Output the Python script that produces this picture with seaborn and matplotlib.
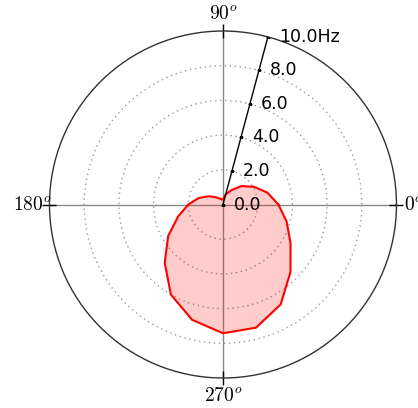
import numpy as np
import matplotlib
matplotlib.use("Agg")
import matplotlib.pyplot as plt
import seaborn as sns

# Dati: risposta (Hz) in funzione della direzione (gradi)
angoli_deg = [0, 15, 30, 45, 60, 75, 90, 105, 120, 135, 150, 165,
              180, 195, 210, 225, 240, 255, 270, 285, 300, 315, 330, 345]
raggi_hz = [3.19, 2.65, 2.05, 1.5, 0.95, 0.6, 0.3, 0.3, 0.4, 0.6, 0.95, 1.45,
            2.0, 2.68, 3.65, 4.75, 6.0, 6.88, 7.42, 7.35, 6.65, 5.5, 4.5, 3.8]

r_ticks = [0, 2, 4, 6, 8, 10]
r_labels = ["0.0", "2.0", "4.0", "6.0", "8.0", "10.0Hz"]
theta_ticks = [0, 90, 180, 270]
theta_labels = ["$0^o$", "$90^o$", "$180^o$", "$270^o$"]

sns.set_style("white")
plt.rcParams['mathtext.fontset'] = 'cm'
plt.rcParams['font.family'] = ['DejaVu Sans']

fig = plt.figure(figsize=(4.18, 4.08), dpi=100)
ax = fig.add_axes([0.1184, 0.0735, 0.8301, 0.8505], projection='polar')

# chiudo il contorno con il punto a 360 gradi
theta = np.deg2rad(angoli_deg + [360])
r = np.array(raggi_hz + raggi_hz[:1])

ax.fill(theta, r, color='red', alpha=0.2, lw=0, zorder=2)
sns.lineplot(x=theta, y=r, sort=False, ax=ax, color='red', lw=1.5, zorder=3)

ax.set_ylim(0, 10)

# griglia
ax.set_xticks(np.deg2rad(theta_ticks))
ax.set_xticklabels([])
ax.set_yticks(r_ticks[1:-1])
ax.set_yticklabels([])
ax.xaxis.grid(True, color='#8a8a8a', ls='-', lw=1)
ax.yaxis.grid(True, color='#9a9a9a', ls=(0, (1, 2.6)), lw=1)
ax.tick_params(axis='x', bottom=False, top=True, direction='inout', length=5,
               width=1, color='k')
ax.spines['polar'].set_linestyle((0, (6, 1)))
ax.spines['polar'].set_color('#333333')
ax.spines['polar'].set_linewidth(1)

# asse radiale
t75 = np.deg2rad(75)
ax.plot([t75, t75], [0, 10], color='k', lw=1, zorder=4)
ax.plot(np.full(len(r_ticks), t75), r_ticks, ls='none', marker='_',
        ms=3, mec='k', mew=1, zorder=4)
for val, lab in zip(r_ticks, r_labels):
    ax.annotate(lab, xy=(t75, val), xytext=(8, 0), textcoords='offset points',
                ha='left', va='center', fontsize=12.5, color='k', zorder=5)

for ang, lab in zip(theta_ticks, theta_labels):
    ax.text(np.deg2rad(ang), 11.0, lab, ha='center', va='center',
            fontsize=14, color='k', clip_on=False)

fig.savefig("out.png", dpi=100)
